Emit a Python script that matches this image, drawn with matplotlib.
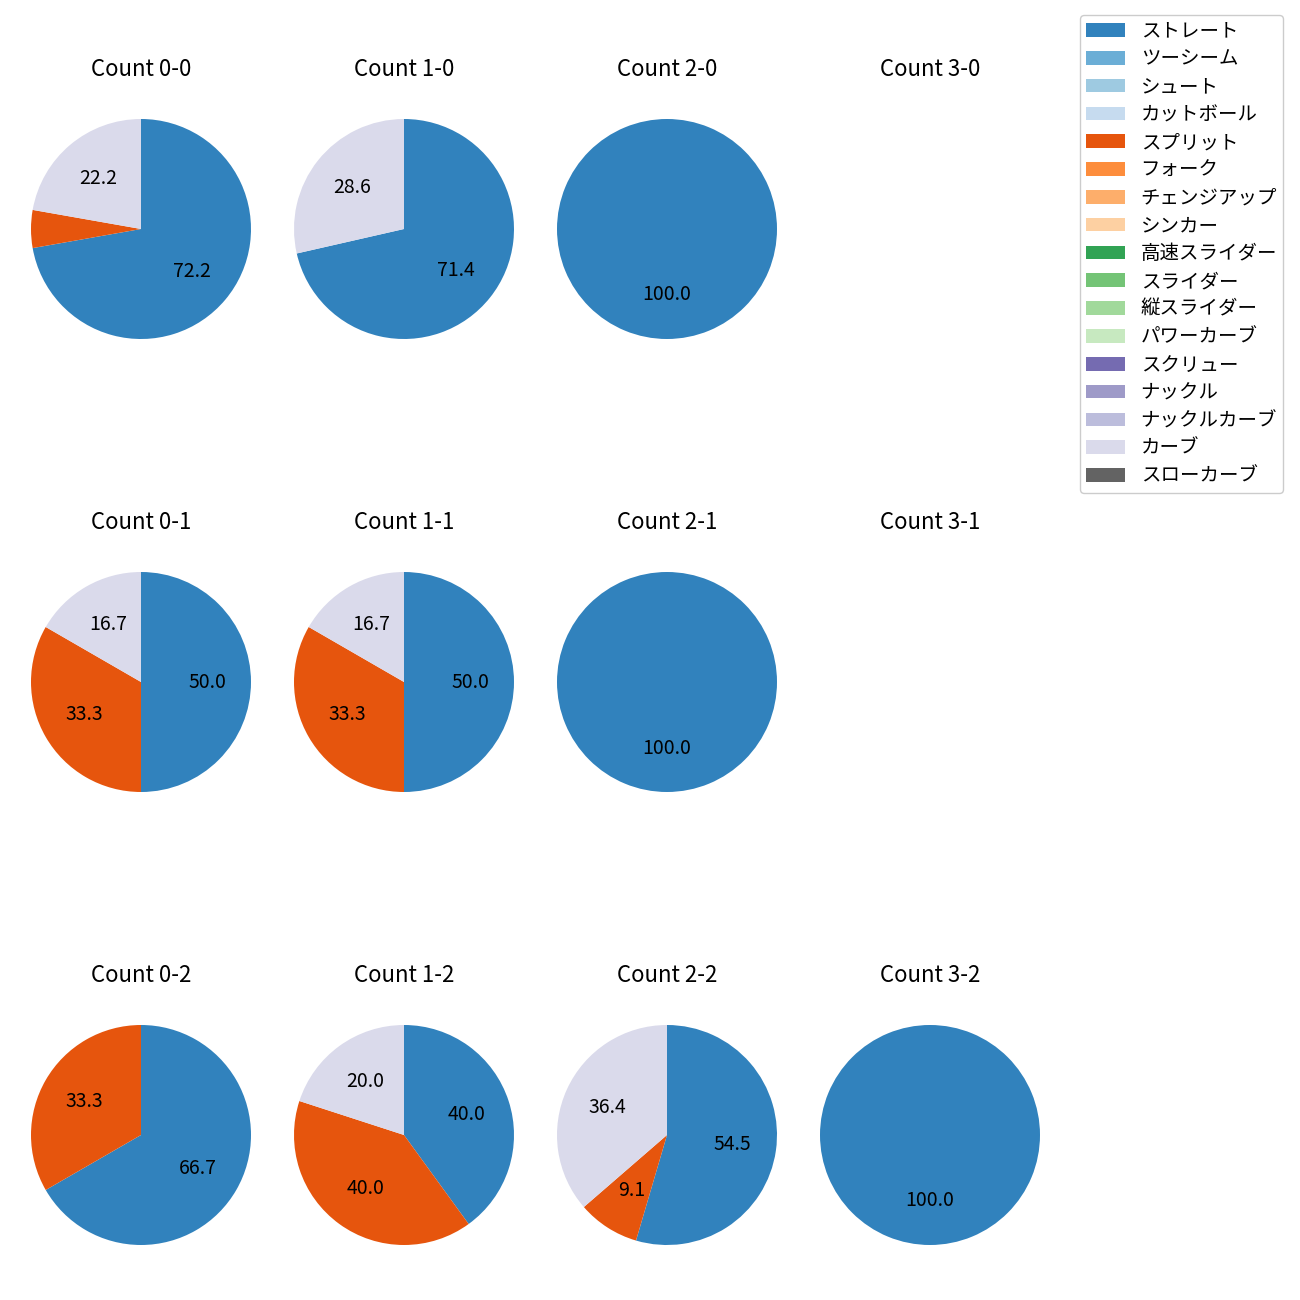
import matplotlib
matplotlib.use("Agg")
import matplotlib.pyplot as plt
from matplotlib.patches import Patch

plt.rcParams['font.family'] = ['Noto Sans CJK JP', 'DejaVu Sans']

pitch_types = ['ストレート', 'ツーシーム', 'シュート', 'カットボール', 'スプリット', 'フォーク',
               'チェンジアップ', 'シンカー', '高速スライダー', 'スライダー', '縦スライダー',
               'パワーカーブ', 'スクリュー', 'ナックル', 'ナックルカーブ', 'カーブ', 'スローカーブ']
pitch_colors = ['#3182bd', '#6baed6', '#9ecae1', '#c6dbef', '#e6550d', '#fd8d3c',
                '#fdae6b', '#fdd0a2', '#31a354', '#74c476', '#a1d99b', '#c7e9c0',
                '#756bb1', '#9e9ac8', '#bcbddc', '#dadaeb', '#636363']

# pitch counts per ball-strike count: (ストレート, スプリット, カーブ)
shown_types = ['ストレート', 'スプリット', 'カーブ']
count_labels = ['0-0', '1-0', '2-0', '3-0',
                '0-1', '1-1', '2-1', '3-1',
                '0-2', '1-2', '2-2', '3-2']
count_values = {
    '0-0': [13, 1, 4],
    '1-0': [5, 0, 2],
    '2-0': [1, 0, 0],
    '3-0': [0, 0, 0],
    '0-1': [3, 2, 1],
    '1-1': [3, 2, 1],
    '2-1': [1, 0, 0],
    '3-1': [0, 0, 0],
    '0-2': [2, 1, 0],
    '1-2': [2, 2, 1],
    '2-2': [6, 1, 4],
    '3-2': [1, 0, 0],
}

W = H = 1300
fig = plt.figure(figsize=(13, 13), dpi=100)

col_cx = [141, 404, 667, 930]
row_cy = [229, 682, 1135]
R = 110
side = 2.5 * R

color_map = dict(zip(pitch_types, pitch_colors))

for i, lab in enumerate(count_labels):
    r, c = divmod(i, 4)
    cx, cy = col_cx[c], row_cy[r]
    ax = fig.add_axes([(cx - side / 2) / W, 1 - (cy + side / 2) / H, side / W, side / H])
    vals = count_values[lab]
    if sum(vals) > 0:
        v = [x for x in vals if x > 0]
        cols = [color_map[t] for t, x in zip(shown_types, vals) if x > 0]
        ax.pie(v, colors=cols, startangle=90, counterclock=False,
               autopct=lambda p: f'{p:.1f}' if p >= 6 else '',
               pctdistance=0.6, textprops={'fontsize': 14})
        ax.set_xlim(-1.25, 1.25)
        ax.set_ylim(-1.25, 1.25)
        ax.set_aspect('equal')
    else:
        ax.axis('off')
    ax.set_title(f'Count {lab}', fontsize=16, pad=11)

handles = [Patch(facecolor=c, label=t) for t, c in zip(pitch_types, pitch_colors)]
fig.legend(handles=handles, loc='upper right', bbox_to_anchor=(1283 / W, 1 - 15 / H),
           borderaxespad=0, borderpad=0.3, fontsize=14, labelspacing=0.35, framealpha=1)

fig.savefig('out.png', dpi=100)
